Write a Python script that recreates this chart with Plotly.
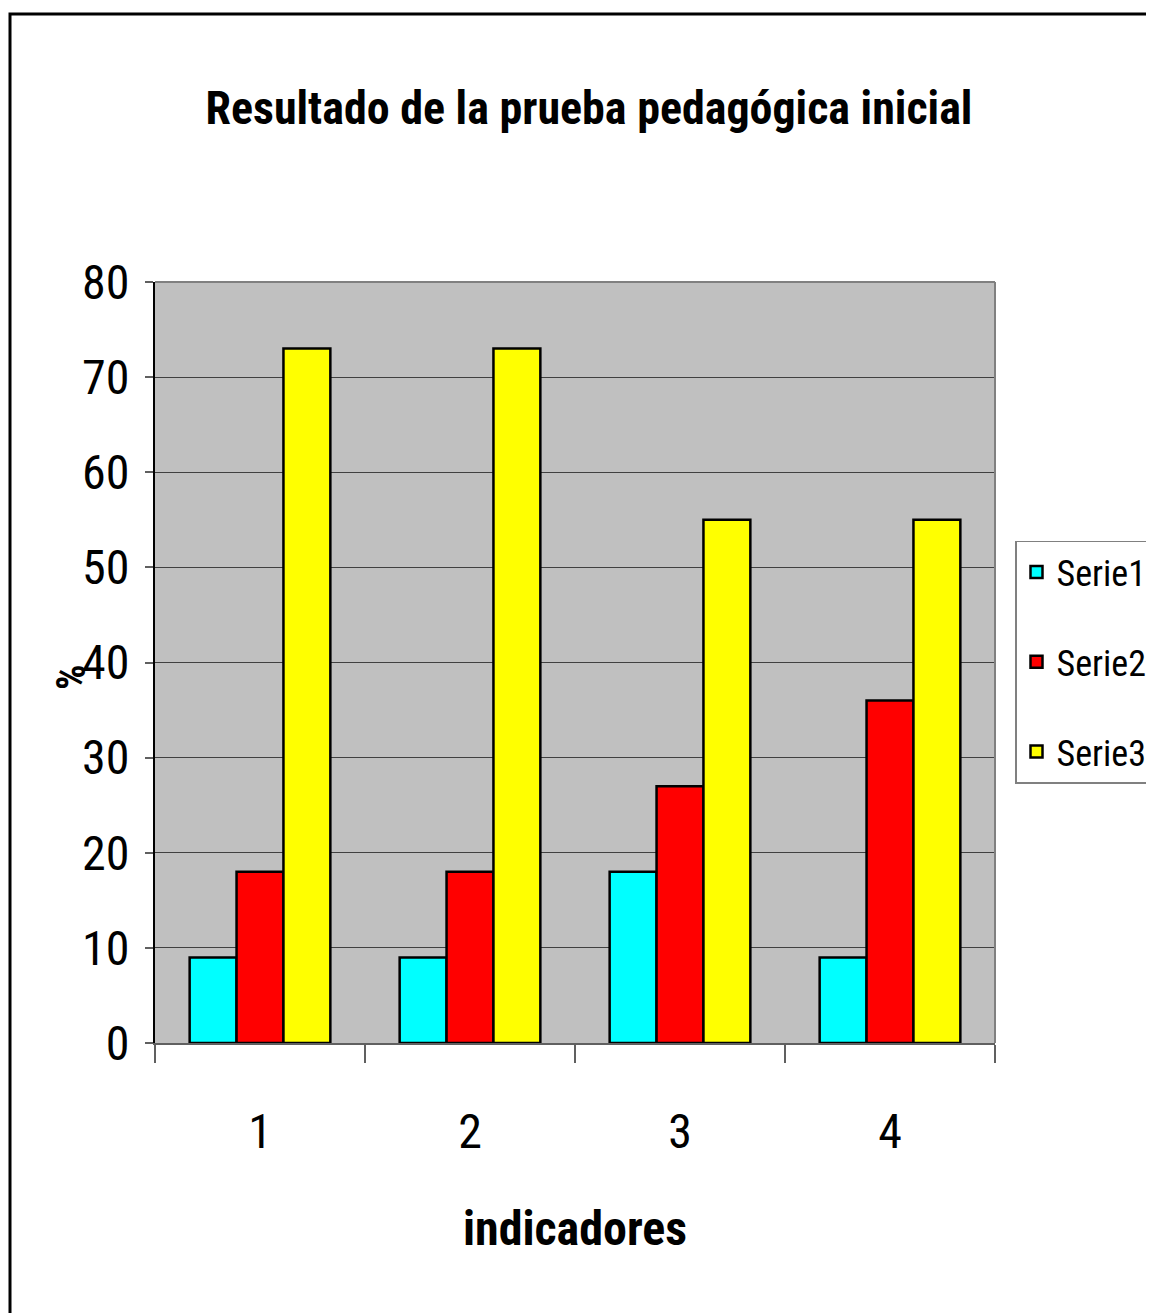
import plotly.graph_objects as go

categories = ["1", "2", "3", "4"]
serie1 = [9, 9, 18, 9]
serie2 = [18, 18, 27, 36]
serie3 = [73, 73, 55, 55]
series_names = ["Serie1", "Serie2", "Serie3"]
colors = ["#00FFFF", "#FF0000", "#FFFF00"]
y_ticks = [0, 10, 20, 30, 40, 50, 60, 70, 80]

FONT = "Roboto Condensed, DejaVu Sans Condensed, sans-serif"

fig = go.Figure()
for name, vals, col in zip(series_names, [serie1, serie2, serie3], colors):
    fig.add_trace(go.Bar(x=categories, y=vals, name=name, legendgroup=name,
                         marker=dict(color=col, line=dict(color="black", width=2.5))))

W, H = 1154, 1313
OFF = 8  # page offset of the figure
pw, ph = 840, 761
L, T = 155 - OFF, 282 - OFF
R, B = W - L - pw, H - T - ph

fig.update_layout(
    width=W, height=H,
    margin=dict(l=L, r=R, t=T, b=B, autoexpand=False),
    paper_bgcolor="white", plot_bgcolor="#C0C0C0",
    barmode="group", bargap=0.33, bargroupgap=0,
    font=dict(family=FONT, color="black"),
    title=dict(text="<b>Resultado de la prueba pedagógica inicial</b>",
               font=dict(size=46, family=FONT),
               x=(589 - OFF) / W, xanchor="center", y=1 - (108 - OFF) / H, yanchor="middle"),
    legend=dict(x=(1015 - 155) / pw, xanchor="left", y=(1043 - 662) / ph, yanchor="middle",
                bordercolor="#808080", borderwidth=1.5, bgcolor="white",
                font=dict(size=36, family=FONT), tracegroupgap=40,
                traceorder="grouped", itemwidth=30),
)

fig.update_xaxes(
    type="category", tickson="boundaries", ticks="outside", ticklen=18,
    tickcolor="#606060", tickwidth=1.5,
    showline=True, linecolor="#606060", linewidth=2,
    tickfont=dict(size=48, family=FONT), ticklabelstandoff=45,
    title=dict(text="<b>indicadores</b>", font=dict(size=48, family=FONT), standoff=53),
    showgrid=False,
)
fig.update_yaxes(
    range=[0, 80], tickvals=y_ticks, ticks="outside", ticklen=8,
    tickcolor="#606060", tickwidth=1.5,
    showline=True, linecolor="black", linewidth=2, mirror=False,
    gridcolor="#404040", gridwidth=1,
    tickfont=dict(size=48, family=FONT), ticklabelstandoff=6,
    zeroline=False,
)

# y-axis title "%"
fig.add_annotation(text="<b>%</b>", xref="paper", yref="paper",
                   x=(71 - 155) / pw, y=(1043 - 677) / ph, xanchor="center", yanchor="middle",
                   textangle=-90, showarrow=False, font=dict(size=40, family=FONT))

# top and right edges of the plot area and outer frame
fig.add_shape(type="line", xref="paper", yref="paper", x0=0, x1=1, y0=1, y1=1,
              line=dict(color="#808080", width=2))
fig.add_shape(type="line", xref="paper", yref="paper", x0=1, x1=1, y0=0, y1=1,
              line=dict(color="#808080", width=2))
fig.add_shape(type="rect", xref="paper", yref="paper",
              x0=(10 - 155) / pw, x1=(W + 40 - 155) / pw,
              y0=-(B + 40) / ph, y1=(1043 - 14) / ph,
              line=dict(color="black", width=3))

fig.write_html("out.html")
